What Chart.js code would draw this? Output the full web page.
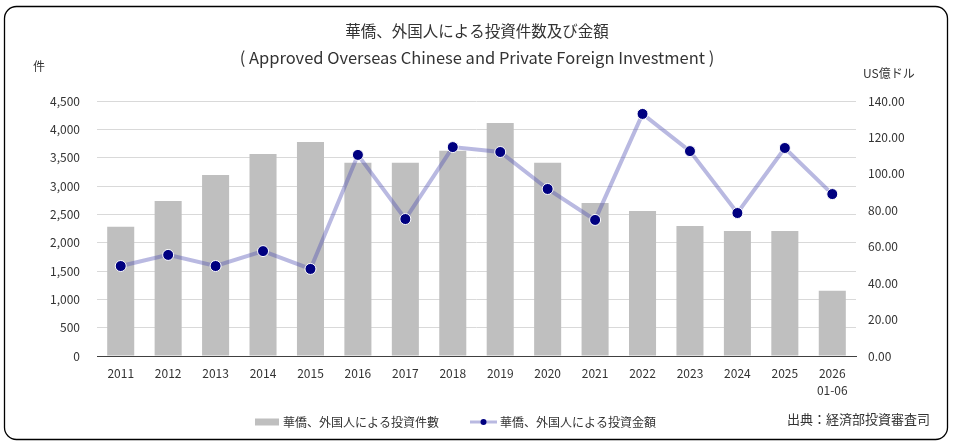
<!DOCTYPE html>
<html>
<head>
<meta charset="utf-8">
<script src="https://cdn.jsdelivr.net/npm/chart.js@4/dist/chart.umd.min.js"></script>
<style>
  html, body { margin: 0; padding: 0; background: #fff; }
  #wrap { width: 953px; height: 447px; position: relative; }
</style>
</head>
<body>
<div id="wrap"><canvas id="invest-chart" width="953" height="447"></canvas></div>
<script>
// data
const years = ['2011', '2012', '2013', '2014', '2015', '2016', '2017', '2018',
    '2019', '2020', '2021', '2022', '2023', '2024', '2025', ['2026', '01-06']];
const caseCounts = [2280, 2735, 3195, 3565, 3775, 3410, 3410, 3620,
    4110, 3410, 2700, 2560, 2295, 2205, 2205, 1150];
const amounts = [49.4, 55.5, 49.4, 57.6, 47.8, 110.4, 75.2, 114.7,
    112.0, 91.7, 74.7, 132.9, 112.5, 78.5, 114.2, 88.9];
const countTicks = { min: 0, max: 4500, step: 500 };
const amountTicks = { min: 0, max: 140, step: 20 };

const titleLines = ['華僑、外国人による投資件数及び金額',
    '( Approved Overseas Chinese and Private Foreign Investment )'];
const countLabel = '華僑、外国人による投資件數';
const amountLabel = '華僑、外国人による投資金額';
const leftUnit = '件';
const rightUnit = 'US億ドル';
const sourceText = '出典：経済部投資審査司';

const FONT = '"Noto Sans CJK JP", "Noto Sans", sans-serif';
const barColor = '#bfbfbf';
const lineColor = 'rgba(80, 80, 180, 0.4)';
const dotColor = '#000080';

//frame, titles, units, legend and source, drawn over the chart
const decor = {
    id: 'decor',
    afterDraw(chart) {
        const ctx = chart.ctx;
        ctx.save();

        //rounded frame
        ctx.strokeStyle = '#000';
        ctx.lineWidth = 1.3;
        ctx.beginPath();
        ctx.roundRect(4.5, 6.5, 943, 433, 12);
        ctx.stroke();

        ctx.fillStyle = '#333';
        ctx.textBaseline = 'middle';
        ctx.textAlign = 'center';
        ctx.font = '15.5px ' + FONT;
        ctx.fillText(titleLines[0], 477, 31);
        ctx.font = '16.5px ' + FONT;
        ctx.fillText(titleLines[1], 477, 58);

        ctx.font = '12px ' + FONT;
        ctx.textAlign = 'left';
        ctx.fillText(leftUnit, 33, 66);
        ctx.fillText(rightUnit, 863, 73);

        ctx.textAlign = 'right';
        ctx.font = '13px ' + FONT;
        ctx.fillText(sourceText, 930, 419);

        //legend
        const ly = 422;
        ctx.font = '12px ' + FONT;
        ctx.textAlign = 'left';
        ctx.fillStyle = barColor;
        ctx.fillRect(255, ly - 3.5, 24, 7);
        ctx.fillStyle = '#333';
        ctx.fillText(countLabel, 283, ly);

        ctx.strokeStyle = lineColor;
        ctx.lineWidth = 3;
        ctx.beginPath();
        ctx.moveTo(470, ly);
        ctx.lineTo(497, ly);
        ctx.stroke();
        ctx.fillStyle = dotColor;
        ctx.beginPath();
        ctx.arc(483.5, ly, 3, 0, Math.PI * 2);
        ctx.fill();
        ctx.fillStyle = '#333';
        ctx.fillText(amountLabel, 500, ly);

        ctx.restore();
    }
};

const ctx = document.querySelector('#invest-chart').getContext('2d');
const chart = new Chart(ctx, {
    type: 'bar',
    data: {
        labels: years,
        datasets: [{
            type: 'line',
            label: amountLabel,
            data: amounts,
            yAxisID: 'yAmount',
            borderColor: lineColor,
            borderWidth: 4,
            pointBackgroundColor: dotColor,
            pointBorderColor: '#fff',
            pointBorderWidth: 1,
            pointRadius: 5.5,
            tension: 0,
            order: 0
        }, {
            type: 'bar',
            label: countLabel,
            data: caseCounts,
            yAxisID: 'yCount',
            backgroundColor: barColor,
            barPercentage: 0.57,
            categoryPercentage: 1,
            order: 1
        }]
    },
    options: {
        responsive: false,
        animation: false,
        devicePixelRatio: 1,
        layout: { padding: { top: 101, bottom: 41, left: 0, right: 0 } },
        plugins: {
            legend: { display: false },
            tooltip: { enabled: false }
        },
        scales: {
            x: {
                grid: { display: false, drawTicks: false },
                border: { color: '#404040', width: 1 },
                ticks: {
                    color: '#333',
                    padding: 9,
                    maxRotation: 0,
                    autoSkip: false,
                    font: { family: FONT, size: 12, lineHeight: 1.4 }
                },
                afterFit(scale) { scale.height = 50; }
            },
            yCount: {
                position: 'left',
                min: countTicks.min,
                max: countTicks.max,
                grid: { color: '#d9d9d9', drawTicks: false },
                border: { display: false },
                ticks: {
                    stepSize: countTicks.step,
                    color: '#333',
                    padding: 17,
                    font: { family: FONT, size: 12 },
                    callback: (v) => v.toLocaleString('en-US')
                },
                afterFit(scale) { scale.width = 97; }
            },
            yAmount: {
                position: 'right',
                min: amountTicks.min,
                max: amountTicks.max,
                grid: { display: false, drawTicks: false },
                border: { display: false },
                ticks: {
                    stepSize: amountTicks.step,
                    color: '#333',
                    padding: 12,
                    font: { family: FONT, size: 12 },
                    callback: (v) => v.toFixed(2)
                },
                afterFit(scale) { scale.width = 97; }
            }
        }
    },
    plugins: [decor]
});
</script>
</body>
</html>
